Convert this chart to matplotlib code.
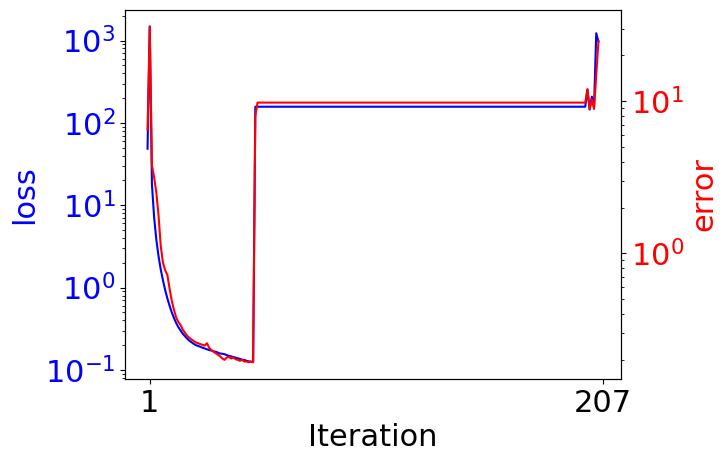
import numpy as np
import matplotlib
matplotlib.use("Agg")
import matplotlib.pyplot as plt

# loss (left axis), one value per iteration
loss_start = [48.5, 1480]
loss_decay = [17.8, 7.08, 3.80, 2.40, 1.66, 1.23, 0.933, 0.741, 0.603, 0.501,
              0.427, 0.372, 0.331, 0.302, 0.275, 0.257, 0.240, 0.226, 0.216, 0.207,
              0.200, 0.195, 0.191, 0.186, 0.182, 0.178, 0.174, 0.172, 0.168, 0.166,
              0.162, 0.158, 0.157, 0.155, 0.151, 0.148, 0.146, 0.143, 0.141, 0.138,
              0.136, 0.133, 0.132, 0.129, 0.127, 0.126, 0.124]
loss_plateau = [157] * 151
loss_end = [254, 145, 208, 157, 1225, 970]
loss = loss_start + loss_decay + loss_plateau + loss_end

# error (right axis)
error_start = [6.5, 31]
error_decay = [3.80, 3.16, 2.51, 1.78, 1.12, 0.871, 0.776, 0.724, 0.589, 0.490,
               0.427, 0.380, 0.355, 0.339, 0.316, 0.302, 0.288, 0.279, 0.272, 0.266,
               0.260, 0.257, 0.254, 0.251, 0.248, 0.257, 0.240, 0.232, 0.226, 0.221,
               0.216, 0.211, 0.204, 0.200, 0.207, 0.209, 0.204, 0.207, 0.202, 0.200,
               0.197, 0.200, 0.195, 0.195, 0.193, 0.195, 0.193]
error_jump = [8.0]
error_plateau = [9.8] * 150
error_end = [12, 8.9, 10.3, 8.9, 15, 24.8]
error = error_start + error_decay + error_jump + error_plateau + error_end

iterations = np.arange(len(loss))
xtick_pos = [1, 207]
xtick_labels = ["1", "207"]

fs = 22

fig, ax1 = plt.subplots(figsize=(7.28, 4.62), dpi=100)
fig.subplots_adjust(left=0.1717, right=0.853, bottom=0.1797, top=0.979)

ax1.plot(iterations, loss, color="blue", linewidth=1.5)
ax1.set_yscale("log")
ax1.set_ylabel("loss", color="blue", fontsize=fs)
ax1.tick_params(axis="y", labelcolor="blue", labelsize=fs)
ax1.set_xlabel("Iteration", fontsize=fs)
ax1.set_xticks(xtick_pos)
ax1.set_xticklabels(xtick_labels)
ax1.tick_params(axis="x", labelsize=fs)

ax2 = ax1.twinx()
ax2.plot(iterations, error, color="red", linewidth=1.5)
ax2.set_yscale("log")
ax2.set_ylabel("error", color="red", fontsize=fs)
ax2.tick_params(axis="y", labelcolor="red", labelsize=fs)

plt.savefig("out.png")
